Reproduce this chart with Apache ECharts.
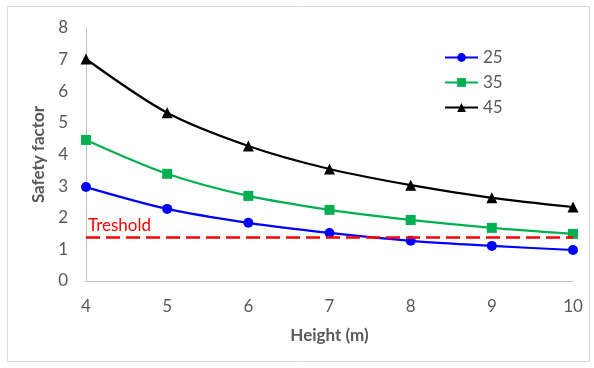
<!DOCTYPE html>
<html>
<head>
<meta charset="utf-8">
<script src="https://cdn.jsdelivr.net/npm/echarts@6/dist/echarts.min.js"></script>
<style>
  html, body { margin: 0; padding: 0; background: #fff; }
  #chart { width: 594px; height: 368px; }
</style>
</head>
<body>
<div id="chart"></div>
<script>
const heights = [4, 5, 6, 7, 8, 9, 10]
const sf25 = [2.97, 2.28, 1.84, 1.52, 1.27, 1.11, 0.98]
const sf35 = [4.46, 3.39, 2.69, 2.25, 1.93, 1.68, 1.49]
const sf45 = [7.02, 5.32, 4.27, 3.54, 3.03, 2.63, 2.34]
const threshold = 1.37
const colors = ['#0000ff', '#00b050', '#000000']

const font = 'Lato, "Open Sans", sans-serif'
const pair = (vals) => heights.map((h, i) => [h, vals[i]])

const chart = echarts.init(document.getElementById('chart'))
const option = {
  animation: false,
  color: colors,
  textStyle: { fontFamily: font },
  graphic: [
    {
      type: 'rect',
      shape: { x: 7.5, y: 6.5, width: 582, height: 355 },
      style: { fill: 'none', stroke: '#d9d9d9', lineWidth: 1 },
    },
  ],
  grid: { left: 86, right: 21, top: 28, bottom: 87 },
  legend: {
    data: ['25', '35', '45'],
    orient: 'vertical',
    left: 439,
    top: 44,
    itemWidth: 33,
    itemHeight: 11,
    itemGap: 8,
    textStyle: { color: '#595959', fontSize: 17, fontFamily: font },
  },
  xAxis: {
    type: 'value',
    min: 4,
    max: 10,
    interval: 1,
    name: 'Height (m)',
    nameLocation: 'middle',
    nameGap: 46,
    nameTextStyle: { color: '#595959', fontSize: 17, fontWeight: 'bold', fontFamily: font },
    axisLine: { lineStyle: { color: '#bfbfbf', width: 1 } },
    axisTick: { show: false },
    splitLine: { show: false },
    axisLabel: { color: '#595959', fontSize: 17, margin: 17, fontFamily: font },
  },
  yAxis: {
    type: 'value',
    min: 0,
    max: 8,
    interval: 1,
    name: 'Safety factor',
    nameLocation: 'middle',
    nameGap: 36,
    nameTextStyle: { color: '#595959', fontSize: 17, fontWeight: 'bold', fontFamily: font },
    axisLine: { show: true, lineStyle: { color: '#bfbfbf', width: 1 } },
    axisTick: { show: false },
    splitLine: { show: false },
    axisLabel: { color: '#595959', fontSize: 17, margin: 18, fontFamily: font },
  },
  series: [
    {
      name: '25',
      type: 'line',
      smooth: 0.3,
      symbol: 'circle',
      symbolSize: 10,
      lineStyle: { width: 2.2 },
      data: pair(sf25),
      z: 3,
      markLine: {
        silent: true,
        symbol: 'none',
        lineStyle: { color: '#ff0000', type: [14, 6], width: 2.5 },
        label: {
          position: 'insideStartTop',
          formatter: 'Treshold',
          color: '#ff0000',
          fontSize: 17,
          fontFamily: font,
          distance: [2, 4],
        },
        data: [{ yAxis: threshold }],
      },
    },
    {
      name: '35',
      type: 'line',
      smooth: 0.3,
      symbol: 'rect',
      symbolSize: 10,
      lineStyle: { width: 2.2 },
      data: pair(sf35),
    },
    {
      name: '45',
      type: 'line',
      smooth: 0.3,
      symbol: 'triangle',
      symbolSize: 11,
      lineStyle: { width: 2.2 },
      data: pair(sf45),
    },
  ],
}
chart.setOption(option)
</script>
</body>
</html>
